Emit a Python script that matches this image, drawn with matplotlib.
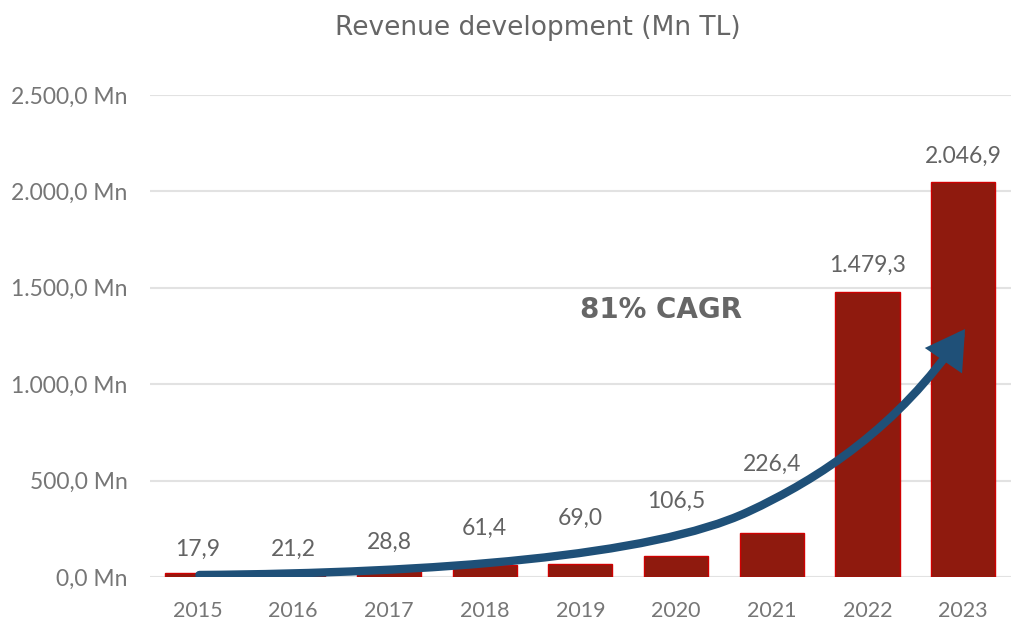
import matplotlib
matplotlib.use('Agg')
import matplotlib.pyplot as plt
from matplotlib.patches import FancyArrowPatch
from matplotlib.path import Path
from matplotlib.ticker import FuncFormatter

# Chart data
years = ['2015', '2016', '2017', '2018', '2019', '2020', '2021', '2022', '2023']
revenue = [17.9, 21.2, 28.8, 61.4, 69.0, 106.5, 226.4, 1479.3, 2046.9]
y_ticks = [0, 500, 1000, 1500, 2000, 2500]
cagr_text = '81% CAGR'
title_text = 'Revenue development (Mn TL)'

# label lift above each bar (points), labels were moved by hand to clear the arrow
label_lift = [13, 12.5, 16, 22, 28, 35, 45, 14, 14]


def tr_number(v):
    # Turkish style: '.' thousands, ',' decimals
    s = f'{v:,.1f}'
    return s.replace(',', 'X').replace('.', ',').replace('X', '.')


grey = '#767676'
fig = plt.figure(figsize=(10.11, 6.23), dpi=100)
ax = fig.add_axes([0.148, 0.074, 0.852, 0.7735])

x = range(len(years))
ax.bar(x, revenue, width=0.67, color='#8F1A0E', edgecolor='#D00000', linewidth=1, zorder=2)

for xi, v, lift in zip(x, revenue, label_lift):
    ax.annotate(tr_number(v), (xi, v), xytext=(0, lift), textcoords='offset points',
                ha='center', va='baseline', fontsize=16.5, color='#636363', family='Lato')

ax.set_xlim(-0.5, len(years) - 0.5)
ax.set_ylim(0, 2500)
ax.set_yticks(y_ticks)
ax.yaxis.set_major_formatter(FuncFormatter(lambda v, p: tr_number(v) + ' Mn'))
ax.set_xticks(list(x))
ax.set_xticklabels(years)
ax.tick_params(axis='both', length=0, labelcolor=grey)
ax.tick_params(axis='y', pad=16, labelsize=16.5)
ax.tick_params(axis='x', pad=17, labelsize=15.5)
for lab in ax.get_xticklabels() + ax.get_yticklabels():
    lab.set_family('Lato')

ax.grid(axis='y', color='#E2E2E2', linewidth=1.5, zorder=0)
ax.set_axisbelow(True)
for s in ax.spines.values():
    s.set_visible(False)

# Curved growth arrow (two bezier segments)
verts = [(0.02, 10), (2.5, 20), (4.75, 107), (5.75, 337),
         (6.5, 510), (7.32, 777), (8.02, 1286)]
codes = [Path.MOVETO, Path.CURVE4, Path.CURVE4, Path.CURVE4,
         Path.CURVE4, Path.CURVE4, Path.CURVE4]
arrow = FancyArrowPatch(path=Path(verts, codes), arrowstyle='-|>,head_length=0.85,head_width=0.5',
                        mutation_scale=22, color='#1F5078', linewidth=6, capstyle='round',
                        joinstyle='miter', zorder=4)
ax.add_patch(arrow)

ax.text(4.0, 1385, cagr_text, ha='left', va='center', fontsize=20, fontweight='bold',
        color='#666666', family='DejaVu Sans')

fig.text(0.532, 0.955, title_text, ha='center', va='center', fontsize=19,
         color='#666666', family='DejaVu Sans')

fig.savefig('out.png', dpi=100)
